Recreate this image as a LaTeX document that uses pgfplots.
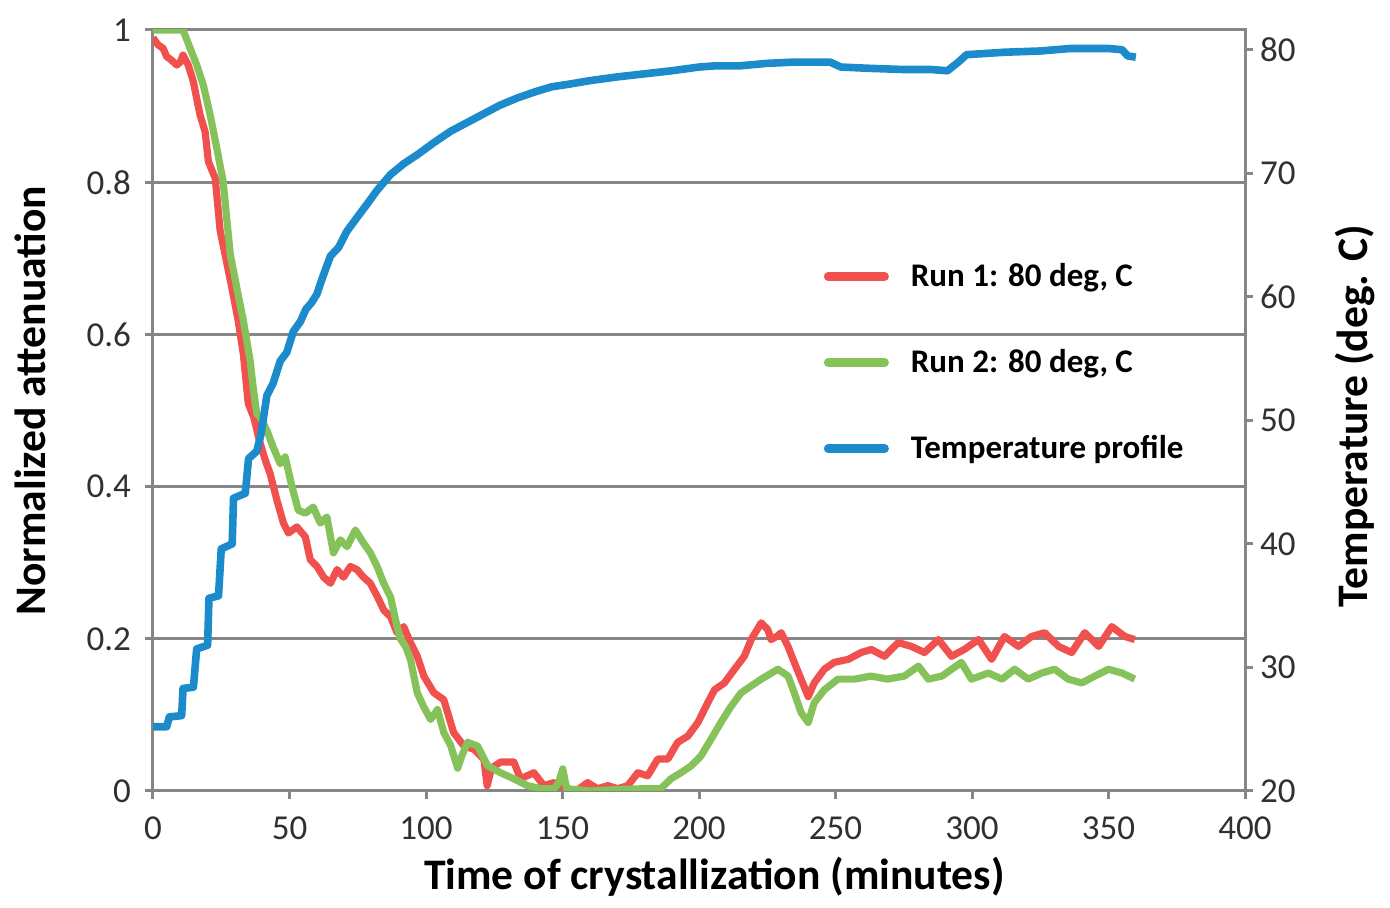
\documentclass[border=0pt]{standalone}
\usepackage{pgfplots}
\pgfplotsset{compat=1.18}
\usepackage{pgfplotstable}
\usepackage{fontspec}
\setmainfont{Carlito}
\definecolor{runred}{HTML}{F0504E}
\definecolor{rungreen}{HTML}{86C25A}
\definecolor{tblue}{HTML}{1B8BCB}
\definecolor{axgray}{HTML}{868686}
\definecolor{ticktext}{HTML}{303030}

\pgfplotstableread{
t v
0 0.99
0.7 0.986
2 0.98
3.7 0.976
5 0.965
6.2 0.962
7.5 0.958
8.7 0.954
10 0.958
11 0.967
12 0.96
12.9 0.954
14.8 0.932
16 0.91
17.2 0.889
19.1 0.866
20.3 0.827
22.8 0.805
24.6 0.736
26.4 0.705
28.9 0.661
31.2 0.618
33.1 0.574
34.9 0.509
37 0.49
39 0.46
41.1 0.435
42.9 0.417
45.4 0.382
47.8 0.352
49.6 0.339
52.7 0.347
55.8 0.334
57.6 0.304
60.1 0.295
62.5 0.281
65 0.273
67.4 0.291
69.8 0.281
72.3 0.295
74.7 0.291
77.1 0.281
79.6 0.273
82.1 0.256
84.5 0.238
87 0.229
89.4 0.208
91.8 0.216
94.3 0.195
96.8 0.177
99.2 0.151
102.9 0.129
106.5 0.12
110.1 0.077
113.9 0.059
117.5 0.055
121.2 0.042
122.4 0.007
124 0.03
127.3 0.038
132.2 0.038
134.6 0.016
139.5 0.024
143.2 0.007
146.8 0.011
151.8 0.003
155 0
159.2 0.011
162.8 0.003
166.6 0.007
170.2 0.003
173.9 0.007
177.6 0.024
181.2 0.02
184.9 0.042
188.6 0.042
192.2 0.064
195.9 0.072
199.6 0.09
203.2 0.116
205.7 0.133
209.3 0.142
213 0.16
216.6 0.177
219.1 0.199
222.8 0.221
225.2 0.212
226.4 0.199
228.9 0.204
230.1 0.208
232.6 0.19
234.9 0.169
237.4 0.147
240 0.124
242.2 0.142
245.9 0.16
249.5 0.169
254.7 0.173
259.4 0.182
263.1 0.186
267.9 0.177
273 0.195
277.8 0.19
282.6 0.182
287.7 0.199
292.5 0.177
297.2 0.186
302.4 0.199
307.2 0.173
311.9 0.203
317 0.19
321.8 0.203
326.6 0.208
331.7 0.19
336.5 0.182
341.3 0.208
346.4 0.19
351.2 0.216
356 0.203
359.6 0.199
}\runone

\pgfplotstableread{
t v
0 1.0
11 1.0
13.6 0.976
16 0.954
18.4 0.928
20.9 0.889
23.4 0.844
25.7 0.801
27.1 0.749
28.3 0.705
30.7 0.661
33.1 0.618
35.6 0.565
36.7 0.53
38 0.496
39.5 0.49
41.7 0.474
44 0.452
46.6 0.43
48.4 0.439
50.9 0.4
53.2 0.369
55.8 0.365
58.7 0.373
61.3 0.352
63.7 0.36
66.1 0.313
68.6 0.33
71.1 0.321
74.1 0.343
77.1 0.326
79.6 0.313
82.1 0.295
84.5 0.273
87 0.255
89.4 0.216
90.6 0.2
92.5 0.19
94.3 0.173
96.8 0.129
99.1 0.111
101.7 0.094
104.2 0.107
106.5 0.077
109 0.06
111.6 0.03
113 0.045
115.2 0.064
118.9 0.059
122.6 0.033
127.3 0.024
132.2 0.016
137.2 0.007
142 0.003
146.8 0.003
148.5 0.01
150.1 0.029
151.5 0.003
160 0
170 0.002
180 0.003
186 0.003
189.7 0.016
193.4 0.024
197.1 0.033
200.7 0.046
204.4 0.068
208 0.09
211.7 0.111
215.4 0.129
219.1 0.138
222.8 0.147
228.9 0.16
232.6 0.151
234.9 0.129
237.4 0.103
240 0.09
242.2 0.116
245.9 0.133
250.9 0.147
257 0.147
263.1 0.151
269 0.147
275.2 0.151
280.4 0.164
284 0.147
289 0.151
296.1 0.169
299.8 0.147
306 0.155
311 0.147
315.6 0.16
320.6 0.147
325.5 0.155
330.3 0.16
335.2 0.147
340.2 0.142
345 0.151
350 0.16
355 0.155
359.6 0.147
}\runtwo

\pgfplotstableread{
t T
0 25.2
5 25.2
6 26.0
10.5 26.1
11 28.3
14.8 28.4
16 31.5
20 31.8
20.5 35.6
24 35.8
25 39.6
29 40.0
29.5 43.7
33.8 44.1
35 46.9
38 47.5
39.5 48.8
41.7 52.0
44 53.0
46.6 54.8
49 55.5
51.4 57.2
54 58.0
56 59.0
58 59.5
60 60.2
62 61.5
65 63.3
68 64.0
71 65.3
75 66.5
78.4 67.5
82 68.6
87 69.9
92 70.8
96.8 71.5
103 72.5
109 73.4
115 74.1
121 74.8
127 75.5
133.5 76.1
140 76.6
146 77.0
152 77.2
160 77.5
170 77.8
178 78.0
190 78.3
200 78.6
206 78.7
215 78.7
225 78.9
235 79.0
248 79.0
252 78.6
262 78.5
275 78.4
285 78.4
291 78.3
295 79.0
298 79.6
305 79.7
312 79.8
325 79.9
336 80.1
350 80.1
355 80.0
357 79.5
360 79.4
}\temp

\begin{document}
\begin{tikzpicture}
\pgfplotsset{
  every axis/.append style={
    scale only axis, width=546pt, height=380.5pt,
    xmin=0, xmax=400,
    axis line style={axgray, line width=1.5pt},
    every tick/.style={axgray, line width=1.5pt},
    major tick length=4pt,
    tick align=outside,
    /pgf/number format/assume math mode=true,
    tick label style={font=\fontsize{17.5}{17.5}\selectfont, text=ticktext},
  },
}
\begin{axis}[
  name=ax,
  ymin=0, ymax=1,
  xtick={0,50,...,400},
  ytick={0,0.2,...,1},
  xtick pos=bottom, ytick pos=left,
  xticklabel style={yshift=-5.5pt},
  yticklabel style={xshift=-3.5pt},
  ymajorgrids,
  grid style={axgray, line width=1.5pt},
  xlabel={Time of crystallization (minutes)},
  ylabel={Normalized attenuation},
  every axis x label/.style={at={(axis description cs:0.514,-0.130)}, anchor=base, font=\fontsize{21.8}{21.8}\selectfont\bfseries},
  every axis y label/.style={at={(axis description cs:-0.1126,0.513)}, rotate=90, anchor=center, font=\fontsize{21.8}{21.8}\selectfont\bfseries},
]
\addplot[runred, line width=3.6pt, line join=round] table[x=t, y=v] {\runone};
\addplot[rungreen, line width=3.6pt, line join=round] table[x=t, y=v] {\runtwo};
\end{axis}
\begin{axis}[
  ymin=20, ymax=81.6,
  axis y line*=right, axis x line=none,
  ytick={20,30,...,80},
  ylabel={Temperature (deg. C)},
  every axis y label/.style={at={(axis description cs:1.1007,0.493)}, rotate=90, anchor=center, font=\fontsize{21.8}{21.8}\selectfont\bfseries},
  legend style={at={(axis description cs:0.614,0.7045)}, anchor=north west, draw=none, fill=none,
    font=\fontsize{16.5}{16.5}\selectfont\bfseries, row sep=22pt, inner sep=0pt,
    nodes={inner sep=4pt}},
  legend cell align=left,
  legend image code/.code={\draw[#1, line width=4.2pt, line cap=round] (0pt,0pt) -- (28.3pt,0pt); \path (35.5pt,0pt);},
]
\addlegendimage{runred}
\addlegendentry{Run 1: 80 deg, C}
\addlegendimage{rungreen}
\addlegendentry{Run 2: 80 deg, C}
\addplot[tblue, line width=3.8pt, line join=round] table[x=t, y=T] {\temp};
\addlegendentry{Temperature profile}
\end{axis}
\pgfresetboundingbox
\path[use as bounding box] ([shift={(-76.5pt,-58.5pt)}]ax.south west) rectangle ([shift={(618.5pt,395.5pt)}]ax.south west);
\end{tikzpicture}
\end{document}
